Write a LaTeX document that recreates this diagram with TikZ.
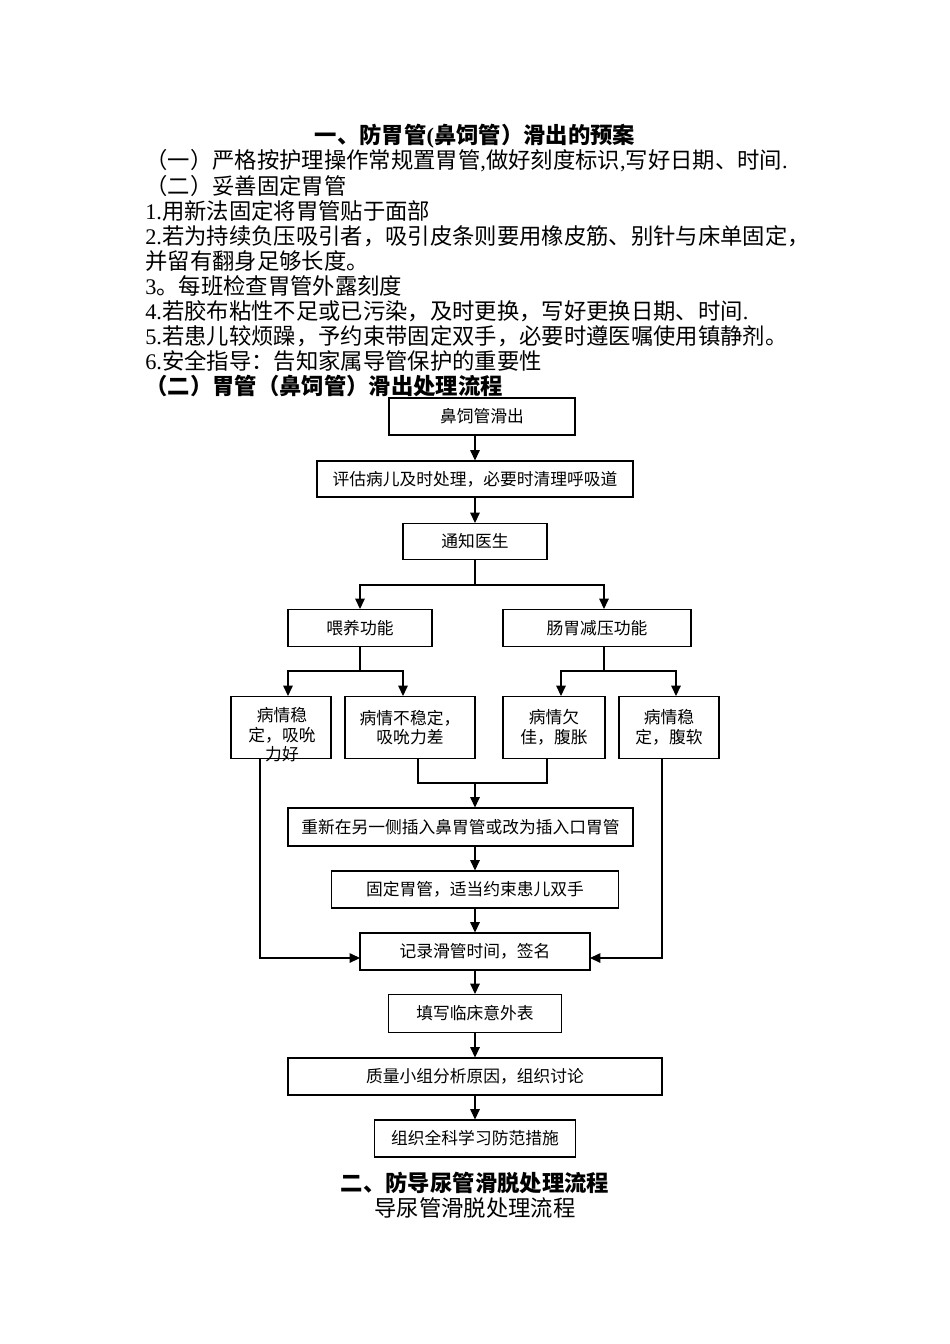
\documentclass[tikz,border=0pt]{standalone}
\usepackage{fontspec}
\setmainfont{Liberation Serif}
\newfontfamily\cjk{Noto Sans CJK SC}
\usetikzlibrary{arrows.meta}
\newcommand\lat[1]{{\rmfamily #1}}
\newcommand\pxu{0.62661pt}
\begin{document}
\begin{tikzpicture}[x=0.62661pt,y=-0.62661pt,
  sz/.style n args={2}{minimum width=#1*\pxu, minimum height=#2*\pxu},
  box/.style={draw, line width=0.65pt, inner sep=0pt, font=\cjk\fontsize{10.5}{12.2}\selectfont, align=center},
  boxtext/.style={inner sep=0pt, font=\cjk\fontsize{10.5}{12.2}\selectfont, align=center},
  body/.style={anchor=west, inner sep=0pt, font=\cjk\fontsize{14}{15.7}\selectfont},
  conn/.style={line width=0.65pt},
  arr/.style={line width=0.65pt, -{Triangle[length=6.5pt,width=6pt]}}]
\fill[white] (0,0) rectangle (950,1344);
\useasboundingbox (0,0) rectangle (950,1344);

% ---- text section ----
\node[body, anchor=center] (title) at (475,136) {\bfseries 一、防胃管\lat{(}鼻饲管）滑出的预案};
\node[body] (l1) at (145,161) {（一）严格按护理操作常规置胃管\lat{,}做好刻度标识\lat{,}写好日期、时间\lat{.}};
\node[body] (l2) at (145,186) {（二）妥善固定胃管};
\node[body] (l3) at (145,211) {\lat{1.}用新法固定将胃管贴于面部};
\node[body] (l4) at (145,236) {\lat{2.}若为持续负压吸引者，吸引皮条则要用橡皮筋、别针与床单固定，};
\node[body] (l5) at (145,261) {并留有翻身足够长度。};
\node[body] (l6) at (145,286) {\lat{3}。每班检查胃管外露刻度};
\node[body] (l7) at (145,311) {\lat{4.}若胶布粘性不足或已污染，及时更换，写好更换日期、时间\lat{.}};
\node[body] (l8) at (145,336) {\lat{5.}若患儿较烦躁，予约束带固定双手，必要时遵医嘱使用镇静剂。};
\node[body] (l9) at (145,361) {\lat{6.}安全指导：告知家属导管保护的重要性};
\node[body] (l10) at (145,386) {\bfseries （二）胃管（鼻饲管）滑出处理流程};

% ---- flowchart boxes ----
\node[box, sz={186}{37}] (B1) at (482,416.5) {鼻饲管滑出};
\node[box, sz={316}{36}] (B2) at (475,479) {评估病儿及时处理，必要时清理呼吸道};
\node[box, sz={144}{36}] (B3) at (475,541.5) {通知医生};
\node[box, sz={144}{37}] (B4) at (360,628) {喂养功能};
\node[box, sz={188}{37}] (B5) at (597,628) {肠胃减压功能};
\node[box, sz={100}{62}] (B6) at (281,727.5) {};
\node[boxtext] (B6t) at (282,735) {病情稳\\定，吸吮\\力好};
\node[box, sz={130}{62}] (B7) at (410,727.5) {病情不稳定，\\吸吮力差};
\node[box, sz={102}{62}] (B8) at (554,727.5) {病情欠\\佳，腹胀};
\node[box, sz={100}{62}] (B9) at (669,727.5) {病情稳\\定，腹软};
\node[box, sz={345}{38}] (B10) at (460.5,827) {重新在另一侧插入鼻胃管或改为插入口胃管};
\node[box, sz={287}{37}] (B11) at (475,889.5) {固定胃管，适当约束患儿双手};
\node[box, sz={230}{37}] (B12) at (475,951.5) {记录滑管时间，签名};
\node[box, sz={173}{38}] (B13) at (475,1013.5) {填写临床意外表};
\node[box, sz={374}{37}] (B14) at (475,1076.5) {质量小组分析原因，组织讨论};
\node[box, sz={201}{37}] (B15) at (475,1138.5) {组织全科学习防范措施};

% ---- bottom headings ----
\node[body, anchor=center] (h2) at (475,1183) {\bfseries 二、防导尿管滑脱处理流程};
\node[body, anchor=center] (h3) at (475,1208) {导尿管滑脱处理流程};

% ---- junction coordinates ----
\coordinate (s1) at (475,0);
\coordinate (jA) at (360,585);
\coordinate (jB) at (604,585);
\coordinate (k1) at (288,671);
\coordinate (k2) at (403,671);
\coordinate (k0) at (604,0);
\coordinate (k3) at (561,671);
\coordinate (k4) at (676,671);
\coordinate (m1) at (418,0);
\coordinate (m2) at (547,0);
\coordinate (mj) at (475,783);
\coordinate (e1) at (260,0);
\coordinate (e2) at (662,0);
\coordinate (el) at (360,958);
\coordinate (er) at (590,958);

% ---- connectors ----
\draw[arr] (B1.south -| s1) -- (B2.north);
\draw[arr] (B2.south) -- (B3.north);
\draw[arr] (B3.south) |- (jA) -- (B4.north);
\draw[arr] (B3.south) |- (jB) -- (jB |- B5.north);
\draw[arr] (B4.south) |- (k1) -- (k1 |- B6.north);
\draw[arr] (B4.south) |- (k2) -- (k2 |- B7.north);
\draw[arr] (B5.south -| k0) |- (k3) -- (k3 |- B8.north);
\draw[arr] (B5.south -| k0) |- (k4) -- (k4 |- B9.north);
\draw[conn] (B7.south -| m1) |- (mj) -| (B8.south -| m2);
\draw[arr] (mj) -- (mj |- B10.north);
\draw[arr] (B10.south -| s1) -- (B11.north);
\draw[arr] (B11.south) -- (B12.north);
\draw[arr] (B6.south -| e1) |- (el);
\draw[arr] (B9.south -| e2) |- (er);
\draw[arr] (B12.south) -- (B13.north);
\draw[arr] (B13.south) -- (B14.north);
\draw[arr] (B14.south) -- (B15.north);
\end{tikzpicture}
\end{document}
